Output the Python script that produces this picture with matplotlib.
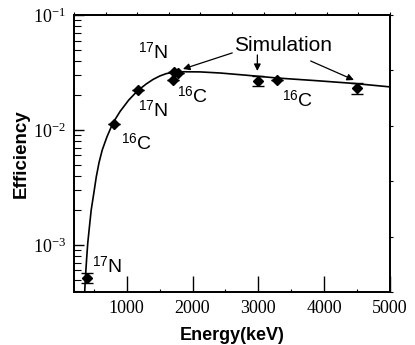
import matplotlib
matplotlib.use("Agg")
import matplotlib.pyplot as plt
from matplotlib.ticker import FixedLocator, LogLocator, LogFormatterMathtext, NullFormatter

plt.rcParams['font.family'] = ['Liberation Serif', 'DejaVu Serif']
plt.rcParams['mathtext.fontset'] = 'custom'
plt.rcParams['mathtext.rm'] = 'Liberation Serif'
plt.rcParams['mathtext.it'] = 'Liberation Serif:italic'
plt.rcParams['mathtext.sf'] = 'Liberation Sans'

# ---- data ----
point_energy = [390, 800, 1168, 1718, 1779, 1703, 3000, 3290, 4500]
point_eff = [5.2e-4, 0.0113, 0.0223, 0.0319, 0.0310, 0.0272, 0.0267, 0.0270, 0.0232]
point_err = [0.5e-4, 0.0, 0.0, 0.0, 0.0, 0.0, 0.0027, 0.0, 0.0025]

curve_energy = [362, 374, 392, 409, 435, 461, 500, 538, 580, 629, 700, 791, 900,
                1031, 1168, 1300, 1400, 1504, 1600, 1703, 1850, 2115, 2420,
                2800, 3291, 3900, 4452, 5000]
curve_eff = [3.9e-4, 5.27e-4, 7.6e-4, 1.04e-3, 1.45e-3, 2.01e-3, 2.8e-3, 3.9e-3,
             5.2e-3, 6.7e-3, 8.7e-3, 1.15e-2, 1.45e-2, 1.82e-2, 2.2e-2, 2.52e-2,
             2.75e-2, 2.95e-2, 3.09e-2, 3.18e-2, 3.21e-2, 3.2e-2, 3.13e-2,
             3.0e-2, 2.83e-2, 2.68e-2, 2.54e-2, 2.37e-2]

labels_text = [r'$^{\mathsf{17}}$N', r'$^{\mathsf{16}}$C', r'$^{\mathsf{17}}$N',
               r'$^{\mathsf{16}}$C', r'$^{\mathsf{17}}$N', r'$^{\mathsf{16}}$C']
labels_x = [1168, 1764, 1168, 909, 481, 3367]
labels_y = [0.0472, 0.0194, 0.0149, 0.0077, 6.56e-4, 0.0182]

sim_text = "Simulation"
sim_pos = (3382, 0.0548)
arrow_from = [(2604, 0.0468), (2985, 0.0449), (3795, 0.0398)]
arrow_to = [(1855, 0.0339), (2985, 0.0326), (4452, 0.0272)]

x_ticks = [1000, 2000, 3000, 4000, 5000]

SANS = 'Liberation Sans'

fig = plt.figure(figsize=(4.15, 3.45), dpi=100)
ax = fig.add_axes([74/415, 1-292/345, (390-74)/415, (292-15)/345])

ax.plot(curve_energy, curve_eff, color='black', lw=1.2, zorder=2)
ax.errorbar(point_energy, point_eff, yerr=point_err, fmt='D', color='black',
            ms=5, capsize=4, elinewidth=1.0, capthick=1.0, zorder=3, lw=0)

ax.set_yscale('log')
ax.set_xlim(200, 5000)
ax.set_ylim(3.9e-4, 0.1)

ax.xaxis.set_major_locator(FixedLocator(x_ticks))
ax.xaxis.set_minor_locator(FixedLocator([500, 1500, 2500, 3500, 4500]))
ax.yaxis.set_major_locator(LogLocator(base=10))
ax.yaxis.set_minor_locator(LogLocator(base=10, subs=range(2, 10)))
ax.yaxis.set_major_formatter(LogFormatterMathtext())
ax.yaxis.set_minor_formatter(NullFormatter())

ax.tick_params(axis='x', which='major', direction='in', length=11.5, width=1.0,
               labelsize=13, pad=6)
ax.tick_params(axis='x', which='minor', direction='in', length=2.5, width=0.8)
ax.tick_params(axis='y', which='major', direction='in', length=7.5, width=1.0,
               labelsize=13, pad=6)
ax.tick_params(axis='y', which='minor', direction='in', length=5, width=0.8)
for sp in ax.spines.values():
    sp.set_linewidth(1.1)

ax.set_xlabel('Energy(keV)', fontsize=13, fontweight='bold', family=SANS,
              va='top')
ax.xaxis.set_label_coords(0.5, -0.128)
ax.set_ylabel('Efficiency', fontsize=13.5, fontweight='bold', family=SANS)
ax.yaxis.set_label_coords(-0.139, 0.5)

for t, x, y in zip(labels_text, labels_x, labels_y):
    ax.text(x, y, t, fontsize=14, family=SANS, ha='left', va='center', zorder=4)

ax.text(sim_pos[0], sim_pos[1], sim_text, fontsize=15, family=SANS,
        ha='center', va='center')
for (x0, y0), (x1, y1) in zip(arrow_from, arrow_to):
    ax.annotate('', xy=(x1, y1), xytext=(x0, y0),
                arrowprops=dict(arrowstyle='-|>', color='black', lw=0.9,
                                mutation_scale=10, shrinkA=0, shrinkB=0))

# top and right tiny outward ticks
axt = ax.twiny()
axt.set_xlim(0, 10)
axt.set_xticks(range(11))
axt.tick_params(axis='x', direction='out', length=2, width=0.8, labeltop=False)
axr = ax.twinx()
axr.set_ylim(0, 5)
axr.set_yticks(range(6))
axr.tick_params(axis='y', direction='out', length=2, width=0.8, labelright=False)
for a in (axt, axr):
    for sp in a.spines.values():
        sp.set_linewidth(1.1)

fig.savefig('out.png', dpi=100)
